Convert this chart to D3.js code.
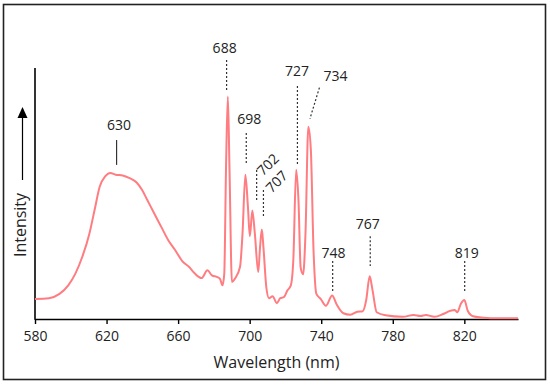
<!DOCTYPE html>
<html lang="en">
    <head>
        <meta charset="UTF-8" />
        <title>Emission spectrum</title>
        <style>
            body { margin: 0; background: #fff; }
            text { font-family: 'Open Sans', sans-serif; fill: #222; }
            .spectrum { fill: none; stroke: #ff7c80; stroke-width: 2px; }
            .leader { stroke: #333; stroke-width: 1.2px; }
            .leader.dashed { stroke-dasharray: 2, 2; }
        </style>
    </head>
    <body>
        <svg width="550" height="386"></svg>
        <script src="https://d3js.org/d3.v7.min.js"></script>
        <script>
            // spectrum (wavelength in nm, intensity in arbitrary units)
            const wavelength = [
                580, 587.8, 593.7, 598.6, 602.5, 606.4, 610.4, 613.3, 616.2, 619.2, 622.1, 625.1, 629, 632.9, 636.8, 639.8,
                642.7, 646.6, 650.5, 654.5, 658.4, 662.3, 666.2, 669.1, 673.1, 676.4, 678.9, 681.9, 683.4, 684.8, 685.8,
                686.8, 687.8, 688.7, 690.1, 691.7, 694.6, 696, 697.6, 699, 700.1, 701.5, 702.9, 704.8, 705.8, 706.8, 707.7,
                709.3, 710.8, 712.8, 715.2, 717.1, 719.1, 721.1, 723, 724.4, 726, 727.3, 728.5, 729.9, 731.2, 732.8, 734.2,
                735.7, 737.3, 739.7, 742.6, 746.1, 748.5, 752.4, 756.3, 760.2, 763.2, 765.1, 767.1, 768.7, 771, 775.9,
                785.7, 791.6, 795.5, 798.5, 803.3, 808.2, 812.2, 814.7, 816.1, 818, 820, 821.9, 824.9, 830.8, 838.6, 850
            ];
            const intensity = [
                8.0, 8.3, 10, 13.4, 18, 24.7, 34, 43.4, 52.8, 56.8, 58.2, 57.5, 57.2, 56.1, 54.4, 51.5,
                47.5, 42.1, 36.8, 31.4, 27.4, 23.1, 20.7, 18.3, 16.3, 19.4, 17.4, 16.7, 16, 13.4, 18,
                60.8, 88.6, 60.8, 14.7, 16, 20.7, 34, 57.5, 45, 33, 43.2, 34, 18.7, 28.6, 35.7, 28.6,
                12.7, 8.3, 9.1, 6.3, 8.3, 8.7, 11.4, 13.4, 23.5, 59.5, 47, 20.5, 17.8, 34, 76.6, 67.4,
                27.4, 10, 8, 5.3, 9.4, 6, 2.3, 1.7, 2.9, 3.1, 7.4, 17, 11.4, 2.7, 1.5,
                0.9, 1.6, 1.2, 1.6, 0.9, 2, 3.3, 3.6, 2.7, 6, 7.6, 3.3, 1.1, 0.5, 0.3, 0.3
            ];

            const xTicks = [580, 620, 660, 700, 740, 780, 820];

            // peak labels: text, label anchor (nm, level), leader line from (nm, level) to (nm, level)
            const peakLabels = ['630', '688', '698', '702', '707', '727', '734', '748', '767', '819'];
            const labelAt = [[627, 75.3], [686, 105.8], [699.8, 77.7], [710.2, 61.5], [715.1, 54.7], [726.5, 96.8], [748, 94.8], [746.9, 24.3], [766, 35.9], [821.3, 24.3]];
            const leaderFrom = [[625.6, 71.3], [687.1, 103.2], [698.1, 74.1], [703.9, 59.4], [707.7, 51.4], [726.7, 92.8], [739, 92.2], [746.4, 23.1], [767.4, 33], [820.2, 23.1]];
            const leaderTo = [[625.6, 61.4], [687.1, 90.8], [698.1, 61.8], [703.9, 47.4], [707.7, 40.6], [726.7, 61.8], [733.7, 79.8], [746.4, 11.2], [767.4, 21.1], [820.2, 10.9]];
            const labelAngle = [0, 0, 0, -45, -45, 0, 0, 0, 0, 0];

            const svg = d3.select('svg');

            svg.append('rect')
                .attr('x', 3.5)
                .attr('y', 4.5)
                .attr('width', 542)
                .attr('height', 375)
                .attr('fill', 'none')
                .attr('stroke', '#222')
                .attr('stroke-width', 1.6);

            const x = d3.scaleLinear().domain([580, 850]).range([35, 518]);
            const y = d3.scaleLinear().domain([0, 100]).range([319, 68]);

            const xAxis = svg
                .append('g')
                .attr('transform', `translate(0,${y(0)})`)
                .call(d3.axisBottom(x).tickValues(xTicks).tickSize(5).tickPadding(7).tickSizeOuter(0));
            xAxis.select('.domain').attr('stroke', '#000').attr('stroke-width', 1.6);
            xAxis.selectAll('.tick line').attr('stroke', '#000').attr('stroke-width', 1.4);
            xAxis.selectAll('.tick text').attr('font-size', 14).attr('font-family', "'Open Sans', sans-serif").attr('fill', '#222');

            svg.append('line')
                .attr('x1', x(580))
                .attr('x2', x(580))
                .attr('y1', y(0) + 0.8)
                .attr('y2', y(100))
                .attr('stroke', '#000')
                .attr('stroke-width', 1.6);

            svg.append('text')
                .attr('x', x(715))
                .attr('y', 368)
                .attr('text-anchor', 'middle')
                .attr('font-size', 16)
                .text('Wavelength (nm)');

            // y label with arrow
            svg.append('text')
                .attr('transform', 'translate(26,225) rotate(-90)')
                .attr('text-anchor', 'middle')
                .attr('font-size', 16)
                .text('Intensity');
            svg.append('line')
                .attr('x1', 22.5)
                .attr('x2', 22.5)
                .attr('y1', 180)
                .attr('y2', 115)
                .attr('stroke', '#000')
                .attr('stroke-width', 1.2);
            svg.append('path').attr('d', 'M22.5,107 L17.5,118 L27.5,118 Z').attr('fill', '#000');

            const pts = wavelength.map((w, i) => [w, intensity[i]]);
            const line = d3
                .line()
                .x((d) => x(d[0]))
                .y((d) => y(d[1]))
                .curve(d3.curveMonotoneX);
            svg.append('path').datum(pts).attr('class', 'spectrum').attr('d', line);

            const ann = svg.append('g');
            peakLabels.forEach((t, i) => {
                ann.append('line')
                    .attr('class', i === 0 ? 'leader' : 'leader dashed')
                    .attr('x1', x(leaderFrom[i][0]))
                    .attr('y1', y(leaderFrom[i][1]))
                    .attr('x2', x(leaderTo[i][0]))
                    .attr('y2', y(leaderTo[i][1]));
                const lx = x(labelAt[i][0]),
                    ly = y(labelAt[i][1]);
                ann.append('text')
                    .attr('transform', `translate(${lx},${ly}) rotate(${labelAngle[i]})`)
                    .attr('text-anchor', 'middle')
                    .attr('dy', labelAngle[i] ? '0.35em' : 0)
                    .attr('font-size', 14)
                    .text(t);
            });
        </script>
    </body>
</html>
